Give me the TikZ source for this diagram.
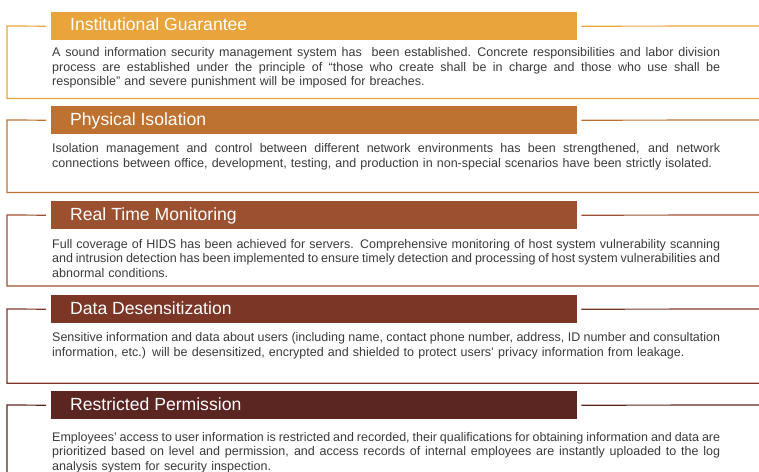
\documentclass[tikz,border=0pt]{standalone}
\usepackage{fontspec}
\setmainfont{Liberation Sans}
\definecolor{cA}{HTML}{E9A43C}
\definecolor{cB}{HTML}{BD7232}
\definecolor{cC}{HTML}{9B512F}
\definecolor{cD}{HTML}{7C3626}
\definecolor{cE}{HTML}{5B2522}
\definecolor{bodygray}{HTML}{3A3A3A}
\newcommand{\jline}[1]{\hbox to 668bp{\spaceskip=0.278em plus 1em minus 0.15em\relax #1}\par}
\newcommand{\lline}[1]{\hbox{#1}\par}
\tikzset{
  headbar/.style={anchor=north west, minimum width=526bp, minimum height=28bp, inner sep=0pt, draw=none},
  headtext/.style={anchor=base west, inner sep=0pt, text=white, font=\fontsize{17.6bp}{20bp}\selectfont},
  bodytext/.style={anchor=base west, inner sep=0pt, text=bodygray, text width=668bp,
    font=\fontsize{12.5bp}{14.5bp}\selectfont},
  frameline/.style={line width=1.2bp},
}
\begin{document}
\begin{tikzpicture}[x=1bp,y=-1bp]
\useasboundingbox (0,0) rectangle (759,472);

% ---------- Panel 1
\node[headbar, fill=cA] (h1) at (51,12) {};
\node[headtext] (t1) at (70,31) {Institutional Guarantee};
\draw[frameline, draw=cA] ([xshift=-5bp]h1.west) -- (7,26) -- (7,98.5) -- (759,98.5);
\draw[frameline, draw=cA] ([xshift=4bp]h1.east) -- (759,26);
\node[bodytext] (b1) at (52,57) {\jline{A sound information security management system has\ \ been established. Concrete responsibilities and labor division}%
\jline{process are established under the principle of “those who create shall be in charge and those who use shall be}%
\lline{responsible” and severe punishment will be imposed for breaches.}};

% ---------- Panel 2
\node[headbar, fill=cB] (h2) at (51,106) {};
\node[headtext] (t2) at (70,125.5) {Physical Isolation};
\draw[frameline, draw=cB] ([xshift=-5bp]h2.west) -- (7,120) -- (7,192.5) -- (759,192.5);
\draw[frameline, draw=cB] ([xshift=4bp]h2.east) -- (759,120);
\node[bodytext] (b2) at (52,153) {\jline{Isolation management and control between different network environments has been strengthened, and network}%
\lline{connections between office, development, testing, and production in non-special scenarios have been strictly isolated.}};

% ---------- Panel 3
\node[headbar, fill=cC] (h3) at (51,201) {};
\node[headtext] (t3) at (70,220.5) {Real Time Monitoring};
\draw[frameline, draw=cC] ([xshift=-5bp]h3.west) -- (7,215) -- (7,286) -- (759,286);
\draw[frameline, draw=cC] ([xshift=4bp]h3.east) -- (759,215);
\node[bodytext] (b3) at (52,248.3) {\jline{Full coverage of HIDS has been achieved for servers. Comprehensive monitoring of host system vulnerability scanning}%
\jline{and intrusion detection has been implemented to ensure timely detection and processing of host system vulnerabilities and}%
\lline{abnormal conditions.}};

% ---------- Panel 4
\node[headbar, fill=cD] (h4) at (51,295) {};
\node[headtext] (t4) at (70,314.5) {Data Desensitization};
\draw[frameline, draw=cD] ([xshift=-5bp]h4.west) -- (7,309) -- (7,383.3) -- (759,383.3);
\draw[frameline, draw=cD] ([xshift=4bp]h4.east) -- (759,309);
\node[bodytext] (b4) at (52,342) {\jline{Sensitive information and data about users (including name, contact phone number, address, ID number and consultation}%
\lline{information, etc.) will be desensitized, encrypted and shielded to protect users’ privacy information from leakage.}};

% ---------- Panel 5
\node[headbar, fill=cE] (h5) at (51,391) {};
\node[headtext] (t5) at (70,410.5) {Restricted Permission};
\draw[frameline, draw=cE] ([xshift=-5bp]h5.west) -- (7,405) -- (7,472);
\draw[frameline, draw=cE] ([xshift=4bp]h5.east) -- (759,405);
\node[bodytext] (b5) at (52,441) {\jline{Employees’ access to user information is restricted and recorded, their qualifications for obtaining information and data are}%
\jline{prioritized based on level and permission, and access records of internal employees are instantly uploaded to the log}%
\lline{analysis system for security inspection.}};
\end{tikzpicture}
\end{document}
